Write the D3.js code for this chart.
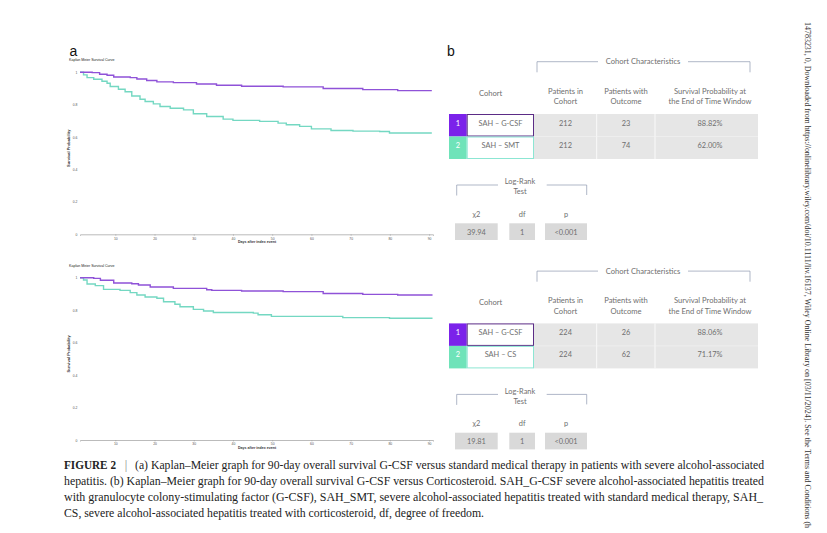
<!DOCTYPE html>
<html>
<head>
<meta charset="utf-8">
<script src="https://cdn.jsdelivr.net/npm/d3@7"></script>
<style>
  body { margin: 0; background: #fff; }
</style>
</head>
<body>
<div id="paper"></div>
<script>
// ---- data ----
const dayTicks = [10, 20, 30, 40, 50, 60, 70, 80, 90];
const survTicks = [0, 0.2, 0.4, 0.6, 0.8, 1];

// panel a, top: G-CSF vs SMT  [day, survival]
const kmTopGcsf = [[1,1],[4.1,0.998],[6,0.988],[7.9,0.982],[9.6,0.971],[13.8,0.967],[15.5,0.959],[18,0.949],
  [20.6,0.941],[24.8,0.936],[30.7,0.928],[35.8,0.92],[42.2,0.914],[52.8,0.91],[63,0.9],[73.1,0.893],[82,0.887],[90.7,0.887]];
const kmTopSmt = [[1,1],[1.9,0.984],[2.8,0.967],[4.5,0.957],[6.6,0.945],[7.9,0.932],[8.7,0.912],[10.8,0.895],
  [12.5,0.88],[14.2,0.854],[16.3,0.834],[17.6,0.82],[19.7,0.805],[21.4,0.789],[24,0.778],[27.4,0.768],[29.9,0.744],
  [33.3,0.727],[37.5,0.711],[40,0.703],[46.8,0.697],[51.5,0.686],[53.6,0.676],[57,0.666],[60,0.651],[65,0.641],
  [70.6,0.637],[77.4,0.635],[79.9,0.625],[90.7,0.625]];

// panel a, bottom: G-CSF vs CS
const kmBotGcsf = [[1,1],[4.5,0.996],[6.2,0.984],[9.6,0.967],[14.2,0.963],[15.9,0.955],[18.9,0.943],[24.8,0.934],
  [33.3,0.926],[34.6,0.922],[42.2,0.918],[52.8,0.914],[63,0.903],[73.1,0.897],[82,0.893],[90.7,0.889]];
const kmBotCs = [[1,1],[1.9,0.986],[2.8,0.961],[4.9,0.951],[7,0.928],[11.2,0.922],[13.8,0.908],[15.5,0.893],
  [17.6,0.881],[20.6,0.873],[22.3,0.852],[25.2,0.836],[26.5,0.821],[29.9,0.805],[32.5,0.795],[35,0.786],[45.2,0.782],
  [46.4,0.772],[49.8,0.762],[68,0.754],[79.9,0.75],[90.7,0.745]];

// panel b tables
const headers = [["Patients in", "Cohort"], ["Patients with", "Outcome"], ["Survival Probability at", "the End of Time Window"]];
const cohortsTop = ["SAH \u2013 G-CSF", "SAH \u2013 SMT"];
const cohortsBot = ["SAH \u2013 G-CSF", "SAH \u2013 CS"];
const rowsTop = [["212", "23", "88.82%"], ["212", "74", "62.00%"]];
const rowsBot = [["224", "26", "88.06%"], ["224", "62", "71.17%"]];
const statLabels = ["\u03c72", "df", "p"];
const statsTop = ["39.94", "1", "<0.001"];
const statsBot = ["19.81", "1", "<0.001"];

const captionLines = [
  "(a) Kaplan\u2013Meier graph for 90-day overall survival G-CSF versus standard medical therapy in patients with severe alcohol-associated",
  "hepatitis. (b) Kaplan\u2013Meier graph for 90-day overall survival G-CSF versus Corticosteroid. SAH_G-CSF severe alcohol-associated hepatitis treated",
  "with granulocyte colony-stimulating factor (G-CSF), SAH_SMT, severe alcohol-associated hepatitis treated with standard medical therapy, SAH_",
  "CS, severe alcohol-associated hepatitis treated with corticosteroid, df, degree of freedom."
];
const sideNote = "14783231, 0, Downloaded from https://onlinelibrary.wiley.com/doi/10.1111/liv.16137, Wiley Online Library on [03/11/2024]. See the Terms and Conditions (h";

const purple = "#8f52d8", teal = "#74d8c2";

const svg = d3.select("#paper")
  .append("svg")
  .attr("id", "canvas")
  .attr("width", 827)
  .attr("height", 533)
  .style("background-color", "white");

// ---------- Kaplan-Meier panels ----------
function drawKM(top, bottom, series) {
  const x = d3.scaleLinear().domain([1, 91]).range([80, 433]);
  const y = d3.scaleLinear().domain([0, 1]).range([bottom, top]);
  const g = svg.append("g");

  g.append("text")
    .attr("x", 69).attr("y", top - 11)
    .attr("font-family", "Arial, Liberation Sans").attr("font-size", "3.6px")
    .attr("fill", "#222")
    .text("Kaplan Meier Survival Curve");

  const xAxis = g.append("g")
    .attr("transform", `translate(0,${bottom})`)
    .call(d3.axisBottom(x).tickValues(dayTicks).tickSize(1.5).tickPadding(1.5));
  xAxis.select(".domain").attr("stroke", "#aaa").attr("stroke-width", 0.8);
  xAxis.selectAll(".tick line").attr("stroke", "#999").attr("stroke-width", 0.5);
  xAxis.selectAll("text").attr("font-size", "3.4px").attr("fill", "#555").attr("font-family", "Arial, Liberation Sans");

  const yAxis = g.append("g")
    .attr("transform", "translate(79,0)")
    .call(d3.axisLeft(y).tickValues(survTicks).tickSize(0).tickPadding(1.5).tickFormat(d3.format("~g")));
  yAxis.select(".domain").remove();
  yAxis.selectAll("text").attr("font-size", "3.4px").attr("fill", "#555").attr("font-family", "Arial, Liberation Sans");

  g.append("text")
    .attr("transform", `translate(70,${(top + bottom) / 2 - 5}) rotate(-90)`)
    .attr("text-anchor", "middle")
    .attr("font-family", "Arial, Liberation Sans").attr("font-size", "4px").attr("font-weight", "bold")
    .attr("fill", "#333")
    .text("Survival Probability");

  g.append("text")
    .attr("x", 257).attr("y", bottom + 8.5)
    .attr("text-anchor", "middle")
    .attr("font-family", "Arial, Liberation Sans").attr("font-size", "3.6px").attr("font-weight", "bold")
    .attr("fill", "#333")
    .text("Days after index event");

  const line = d3.line().x(d => x(d[0])).y(d => y(d[1])).curve(d3.curveStepAfter);
  series.forEach(s => {
    g.append("path")
      .attr("d", line(s.data))
      .attr("fill", "none")
      .attr("stroke", s.color)
      .attr("stroke-width", 1.4);
  });
}

drawKM(72.3, 234.3, [{data: kmTopSmt, color: teal}, {data: kmTopGcsf, color: purple}]);
drawKM(277.7, 440, [{data: kmBotCs, color: teal}, {data: kmBotGcsf, color: purple}]);

svg.append("text").attr("x", 69.5).attr("y", 55.5)
  .attr("font-family", "Liberation Sans, Arial").attr("font-size", "14px").attr("fill", "#111").text("a");
svg.append("text").attr("x", 447).attr("y", 55.5)
  .attr("font-family", "Liberation Sans, Arial").attr("font-size", "14px").attr("fill", "#111").text("b");

// ---------- cohort tables ----------
const tfont = "Lato, Open Sans, sans-serif";
const tcol = "#6f6f6f";
const brk = "#8e98b0";

function drawTable(T, cohorts, rows, stats) {
  const g = svg.append("g").attr("transform", `translate(0,${T})`);

  // cohort characteristics bracket
  g.append("path")
    .attr("d", "M537,72.3V61.7H598 M688,61.7H750V72.3")
    .attr("fill", "none").attr("stroke", brk).attr("stroke-width", 0.7);
  g.append("text").attr("x", 643).attr("y", 61.7).attr("dy", "0.35em")
    .attr("text-anchor", "middle").attr("font-family", tfont).attr("font-size", "7.6px").attr("fill", tcol)
    .text("Cohort Characteristics");

  g.append("text").attr("x", 490.7).attr("y", 93.3).attr("dy", "0.35em")
    .attr("text-anchor", "middle").attr("font-family", tfont).attr("font-size", "7.6px").attr("fill", tcol)
    .text("Cohort");

  const colX = d3.scaleOrdinal().domain([0, 1, 2]).range([565.5, 626, 710]);
  const colEdges = [534, 596.7, 655, 758];

  g.selectAll(".hdr")
    .data(headers)
    .join("text")
    .attr("class", "hdr")
    .attr("text-anchor", "middle").attr("font-family", tfont).attr("font-size", "7.6px").attr("fill", tcol)
    .each(function(d, i) {
      d3.select(this).selectAll("tspan").data(d).join("tspan")
        .attr("x", colX(i)).attr("y", (t, j) => 91 + j * 10.5).attr("dy", "0.35em").text(t => t);
    });

  const rowY = d3.scaleBand().domain([0, 1]).range([114, 159]);
  const boxColors = ["#7b22ea", "#6fe3b9"];
  const borderColors = ["#5b2c86", "#8ce6d3"];

  // gray value area
  g.append("rect").attr("x", colEdges[0]).attr("y", rowY(0))
    .attr("width", colEdges[3] - colEdges[0]).attr("height", rowY.bandwidth() * 2).attr("fill", "#e6e6e6");
  g.selectAll(".vdiv").data([colEdges[1], colEdges[2]]).join("line")
    .attr("x1", d => d).attr("x2", d => d).attr("y1", rowY(0)).attr("y2", rowY(1) + rowY.bandwidth())
    .attr("stroke", "#fff").attr("stroke-width", 0.8);
  g.append("line").attr("x1", colEdges[0]).attr("x2", colEdges[3]).attr("y1", rowY(1)).attr("y2", rowY(1))
    .attr("stroke", "#f4f4f4").attr("stroke-width", 0.6);

  cohorts.forEach((c, i) => {
    const y0 = rowY(i), h = rowY.bandwidth();
    g.append("rect").attr("x", 449).attr("y", y0).attr("width", 17.7).attr("height", h).attr("fill", boxColors[i]);
    g.append("text").attr("x", 457.8).attr("y", y0 + 9).attr("dy", "0.35em")
      .attr("text-anchor", "middle").attr("font-family", tfont).attr("font-size", "7.4px").attr("fill", "#fff")
      .text(i + 1);
    g.append("rect").attr("x", 467.2).attr("y", y0 + 0.5).attr("width", 66.3).attr("height", h - 1)
      .attr("fill", "#fff").attr("stroke", borderColors[i]).attr("stroke-width", 1);
    g.append("text").attr("x", 500.5).attr("y", y0 + 9).attr("dy", "0.35em")
      .attr("text-anchor", "middle").attr("font-family", tfont).attr("font-size", "7.4px").attr("fill", tcol)
      .text(c);
    rows[i].forEach((v, j) => {
      g.append("text").attr("x", colX(j)).attr("y", y0 + 9).attr("dy", "0.35em")
        .attr("text-anchor", "middle").attr("font-family", tfont).attr("font-size", "7.4px").attr("fill", tcol)
        .text(v);
    });
  });

  // log-rank bracket
  g.append("path")
    .attr("d", "M456.7,195.5V185H498 M546.7,185H586.7V195")
    .attr("fill", "none").attr("stroke", brk).attr("stroke-width", 0.7);
  g.selectAll(".lr").data(["Log-Rank", "Test"]).join("text")
    .attr("class", "lr")
    .attr("x", 520).attr("y", (d, i) => 181.7 + i * 10).attr("dy", "0.35em")
    .attr("text-anchor", "middle").attr("font-family", tfont).attr("font-size", "7.4px").attr("fill", tcol)
    .text(d => d);

  const boxes = [[455, 497.7], [509.3, 535], [545, 587]];
  statLabels.forEach((s, i) => {
    const cx = (boxes[i][0] + boxes[i][1]) / 2;
    g.append("text").attr("x", cx).attr("y", 214).attr("dy", "0.35em")
      .attr("text-anchor", "middle").attr("font-family", tfont).attr("font-size", "7.4px").attr("fill", tcol)
      .text(s);
    g.append("rect").attr("x", boxes[i][0]).attr("y", 223.3)
      .attr("width", boxes[i][1] - boxes[i][0]).attr("height", 16.7).attr("fill", "#d9d9d9");
    g.append("text").attr("x", cx).attr("y", 232).attr("dy", "0.35em")
      .attr("text-anchor", "middle").attr("font-family", tfont).attr("font-size", "7.4px").attr("fill", tcol)
      .text(stats[i]);
  });
}

drawTable(0, cohortsTop, rowsTop, statsTop);
drawTable(209.4, cohortsBot, rowsBot, statsBot);

// ---------- caption ----------
const cap = svg.append("g").attr("font-family", "Liberation Serif, DejaVu Serif, serif")
  .attr("font-size", "12.5px").attr("fill", "#222");
cap.append("text").attr("x", 64).attr("y", 468.5).attr("font-weight", "bold")
  .attr("textLength", 52).attr("lengthAdjust", "spacingAndGlyphs").text("FIGURE 2");
cap.append("text").attr("x", 126).attr("y", 468.5).attr("fill", "#888").attr("text-anchor", "middle").text("|");
cap.append("text").attr("x", 135).attr("y", 468.5)
  .attr("textLength", 629).attr("lengthAdjust", "spacingAndGlyphs").text(captionLines[0]);
cap.selectAll(".cl").data(captionLines.slice(1)).join("text")
  .attr("class", "cl")
  .attr("x", 64).attr("y", (d, i) => 484.5 + i * 16.2)
  .attr("textLength", (d, i) => [700, 699, 420][i])
  .attr("lengthAdjust", "spacingAndGlyphs")
  .text(d => d);

// ---------- side download note ----------
svg.append("text")
  .attr("transform", "translate(805,22) rotate(90)")
  .attr("font-family", "Liberation Serif, DejaVu Serif, serif").attr("font-size", "7.6px").attr("fill", "#333")
  .attr("textLength", 506).attr("lengthAdjust", "spacingAndGlyphs")
  .text(sideNote);
</script>
</body>
</html>
